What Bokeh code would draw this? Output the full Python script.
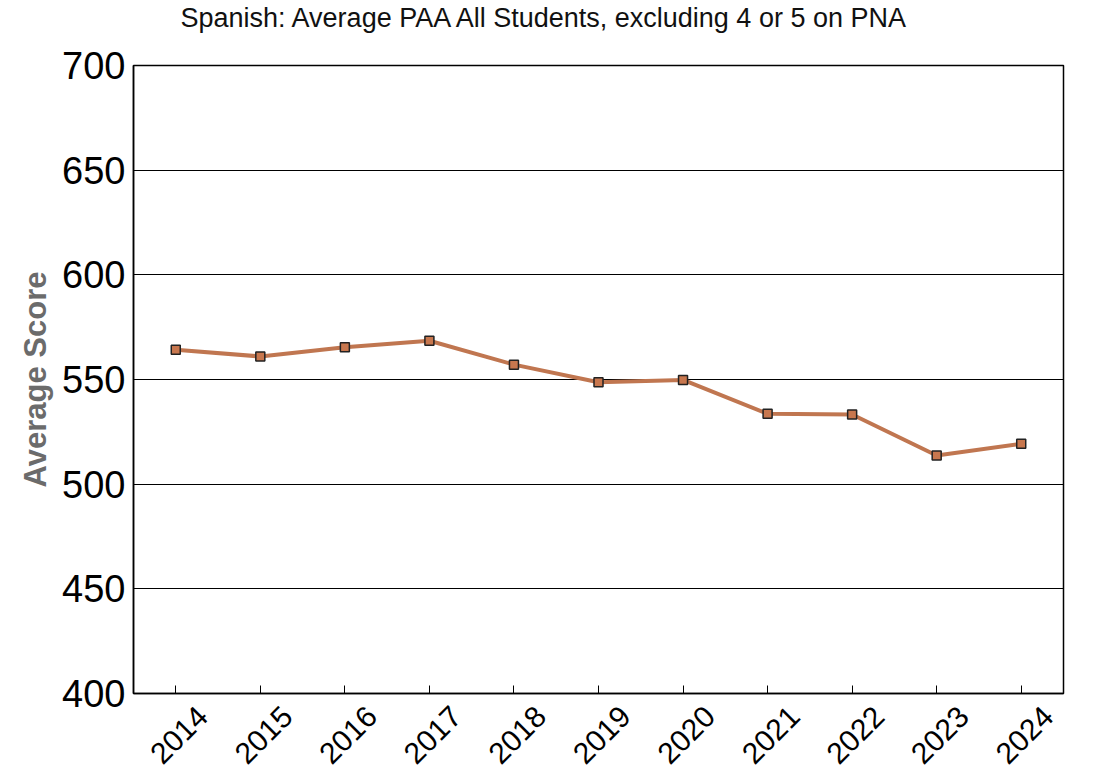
from math import pi
from bokeh.plotting import figure
from bokeh.models import Title, Range1d, FixedTicker, LinearAxis
from bokeh.embed import file_html
from bokeh.resources import INLINE

years = [2014, 2015, 2016, 2017, 2018, 2019, 2020, 2021, 2022, 2023, 2024]
scores = [564.2, 561.0, 565.4, 568.5, 557.1, 548.7, 549.8, 533.6, 533.3, 513.7, 519.3]
y_ticks = [400, 450, 500, 550, 600, 650, 700]
title_text = "Spanish: Average PAA All Students, excluding 4 or 5 on PNA"
y_label = "Average Score"

W, H = 1090, 778
X0, X1 = 2013.5, 2024.5
p = figure(width=W, height=H, output_backend="svg", toolbar_location=None,
           x_range=Range1d(X0, X1), y_range=Range1d(400, 700),
           min_border_left=133, min_border_right=W - 1063,
           min_border_top=65, min_border_bottom=H - 693)
p.title = None
# spacer between frame and title (first added = closest to the frame)
p.add_layout(Title(text=".", text_font_size="1px", standoff=28,
                   text_color="white"), "above")
p.add_layout(Title(text=title_text, align="left", offset=47, standoff=0,
                   vertical_align="top",
                   text_font="Liberation Sans", text_font_size="27px",
                   text_font_style="normal", text_color="#111111"), "above")

p.outline_line_color = "black"
p.outline_line_width = 1.5
p.background_fill_color = "white"
p.border_fill_color = "white"

p.xgrid.visible = False
p.ygrid.grid_line_color = "black"
p.ygrid.grid_line_width = 1
p.ygrid.ticker = FixedTicker(ticks=y_ticks)

p.yaxis.ticker = FixedTicker(ticks=y_ticks)
p.xaxis.ticker = FixedTicker(ticks=years)
for ax in (p.xaxis, p.yaxis):
    ax.axis_line_color = "black"
    ax.axis_line_width = 1.5
    ax.major_tick_in = 8
    ax.major_tick_out = 0
    ax.minor_tick_line_color = None
    ax.major_tick_line_color = "black"
    ax.major_label_text_font = "Liberation Sans"
    ax.major_label_text_color = "black"

p.yaxis.major_label_text_font_size = "38px"
p.yaxis.major_label_standoff = 8
p.xaxis.major_label_text_font_size = "0px"
p.xaxis.major_label_text_color = None
p.xaxis.major_label_standoff = 0

p.yaxis.axis_label = y_label
p.yaxis.axis_label_text_font = "Liberation Sans"
p.yaxis.axis_label_text_font_size = "31px"
p.yaxis.axis_label_text_font_style = "bold"
p.yaxis.axis_label_text_color = "#6b6b6b"
p.yaxis.axis_label_standoff = 6

# label-only axis, shifted right so the rotated year labels sit like the original
shift = 0.32
p.extra_x_ranges = {"lab": Range1d(X0 - shift, X1 - shift)}
lab_axis = LinearAxis(x_range_name="lab", ticker=FixedTicker(ticks=years),
                      axis_line_color=None, major_tick_line_color=None,
                      minor_tick_line_color=None, major_tick_in=0, major_tick_out=0,
                      major_label_orientation=pi / 4, major_label_standoff=18,
                      major_label_text_font="Liberation Sans",
                      major_label_text_font_size="30px",
                      major_label_text_color="black")
p.add_layout(lab_axis, "below")

p.line(years, scores, line_color="#C07650", line_width=4)
p.scatter(years, scores, marker="square", size=9, fill_color="#C8774E",
          line_color="#222222", line_width=1.5)

open("out.html", "w").write(file_html(p, INLINE))
